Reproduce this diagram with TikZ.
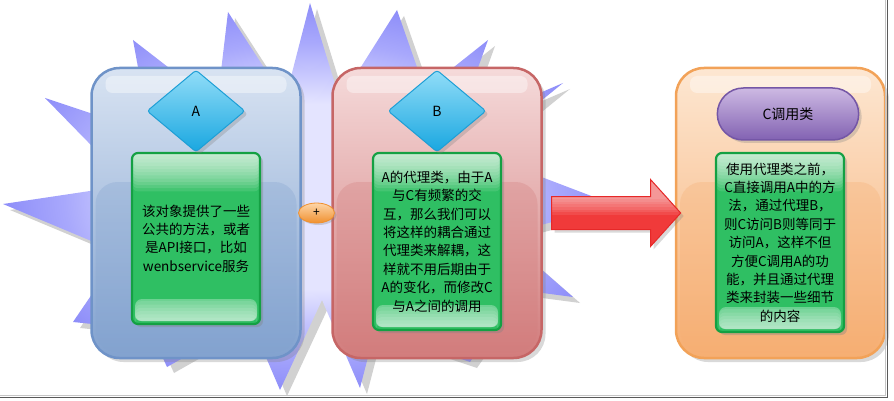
\documentclass[tikz,border=0pt]{standalone}
\usepackage{fontspec}
\setmainfont{Noto Sans CJK SC}
\usetikzlibrary{shapes.geometric,shapes.misc,shapes.arrows,shadows,calc}

\definecolor{blueTop}{HTML}{D8E3F2}
\definecolor{blueBot}{HTML}{82A2CF}
\definecolor{blueLine}{HTML}{6F93C8}
\definecolor{redTop}{HTML}{F5DADA}
\definecolor{redBot}{HTML}{D27C7C}
\definecolor{redLine}{HTML}{C66666}
\definecolor{orangeTop}{HTML}{FDE7D2}
\definecolor{orangeBot}{HTML}{F6AE72}
\definecolor{orangeLine}{HTML}{F2A258}
\definecolor{noteFill}{HTML}{2FBF63}
\definecolor{noteLine}{HTML}{14A043}
\definecolor{tagTop}{HTML}{92DDF8}
\definecolor{tagBot}{HTML}{19A7E0}
\definecolor{tagLine}{HTML}{1E9FD6}
\definecolor{callTop}{HTML}{CDB9E3}
\definecolor{callBot}{HTML}{8262B2}
\definecolor{callLine}{HTML}{7456A6}
\definecolor{plusTop}{HTML}{FDD5A8}
\definecolor{plusBot}{HTML}{F0902E}
\definecolor{arrowFill}{HTML}{F03A3A}
\definecolor{arrowLine}{HTML}{E62828}
\definecolor{burstIn}{HTML}{E4E4FF}
\definecolor{burstMid}{HTML}{A8A8FC}
\definecolor{burstEdge}{HTML}{7474F6}
\definecolor{burstOut}{HTML}{5252F0}

\pgfdeclareradialshading{burst}{\pgfpoint{0bp}{0bp}}{color(0bp)=(burstIn); color(12bp)=(burstIn);
  color(20bp)=(burstMid); color(30bp)=(burstEdge); color(42bp)=(burstOut); color(50bp)=(burstOut)}

% outline of the star behind the A and B boxes
\newcommand\burstoutline{(3,204) -- (130,185) -- (45,98) -- (150,133) -- (133,40) -- (217,105)
  -- (228,12) -- (285,100) -- (310,3) -- (340,100) -- (397,10) -- (425,90) -- (488,40)
  -- (470,90) -- (500,110) -- (563,83) -- (520,118) -- (510,165) -- (615,205) -- (530,228)
  -- (525,255) -- (573,297) -- (520,290) -- (470,362) -- (375,330) -- (360,388) -- (322,300)
  -- (280,390) -- (250,320) -- (167,367) -- (150,330) -- (73,322) -- (120,253) -- cycle}

\tikzset{
  container/.style={draw=#1Line, line width=2.5pt, top color=#1Top, bottom color=#1Bot,
    rounded corners=28pt, minimum width=209pt, minimum height=290pt,
    drop shadow={shadow xshift=4pt,shadow yshift=-4pt,opacity=.3},
    path picture={
      \fill[white,opacity=.4,rounded corners=7pt]
        ([xshift=14pt,yshift=-8pt]path picture bounding box.north west) rectangle
        ([xshift=-14pt,yshift=-25pt]path picture bounding box.north east);
      \fill[#1Bot,opacity=.3,rounded corners=22pt]
        ([xshift=4pt,yshift=-114pt]path picture bounding box.north west) rectangle
        ([xshift=-4pt,yshift=6pt]path picture bounding box.south east);
    }},
  note/.style={draw=noteLine, line width=2.2pt, fill=noteFill, rounded corners=6pt,
    minimum width=128pt, align=center, inner sep=3pt,
    font=\fontsize{13.5}{18.4}\selectfont,
    drop shadow={shadow xshift=3pt,shadow yshift=-3pt,opacity=.35},
    path picture={
      % glossy top, fading downwards
      \foreach \k in {1,...,12}
        \fill[white,opacity=.1] (path picture bounding box.north west) rectangle
          ([yshift={-3.2pt*\k}]path picture bounding box.north east);
      % light strip at the bottom
      \fill[white,opacity=.3,rounded corners=7pt]
        ([xshift=3pt,yshift=25pt]path picture bounding box.south west) rectangle
        ([xshift=-3pt,yshift=3pt]path picture bounding box.south east);
      \foreach \k in {1,...,6}
        \fill[white,opacity=.1,rounded corners=6pt]
          ([xshift=3pt,yshift={3pt+3.3pt*\k}]path picture bounding box.south west) rectangle
          ([xshift=-3pt,yshift=3pt]path picture bounding box.south east);
    }},
  tag/.style={diamond, draw=tagLine, line width=1pt, top color=tagTop, bottom color=tagBot,
    minimum width=98pt, minimum height=82pt, inner sep=0pt, rounded corners=3pt,
    font=\fontsize{14}{14}\selectfont,
    drop shadow={shadow xshift=3pt,shadow yshift=-3pt,opacity=.3}},
  caller/.style={rounded rectangle, draw=callLine, line width=1.5pt, top color=callTop,
    bottom color=callBot, minimum width=148pt, minimum height=52pt,
    font=\fontsize{14}{14}\selectfont,
    drop shadow={shadow xshift=3pt,shadow yshift=-3pt,opacity=.3}},
  plusnode/.style={ellipse, draw=plusBot, line width=.8pt, top color=plusTop, bottom color=plusBot,
    minimum width=36pt, minimum height=20pt, inner sep=0pt, font=\fontsize{12}{12}\selectfont,
    drop shadow={shadow xshift=2pt,shadow yshift=-2pt,opacity=.3}},
  bigarrow/.style={single arrow, draw=arrowLine, line width=1pt, fill=arrowFill,
    minimum height=129pt, minimum width=66pt,
    inner sep=16pt, single arrow head extend=17pt, single arrow tip angle=96,
    drop shadow={shadow xshift=3pt,shadow yshift=-3pt,opacity=.3},
    path picture={
      \foreach \k in {1,...,7}
        \fill[white,opacity=.09] (path picture bounding box.north west) rectangle
          ([yshift={-17pt-2.6pt*\k}]path picture bounding box.north east);
    }}
}

\begin{document}
\begin{tikzpicture}[x=1pt,y=-1pt]
  \useasboundingbox (0,0) rectangle (894,401);

  % star with its shadow
  \fill[black,opacity=.18,shift={(7,6)}] \burstoutline;
  \shade[shading=burst] \burstoutline;

  % the three classes
  \node[container=blue] (boxA) at (196,213) {};
  \node[container=red] (boxB) at (437,213) {};
  \node[container=orange] (boxC) at (780.5,213) {};

  \node[note, minimum height=171pt] (noteA) at (196,238.5)
    {该对象提供了一些\\公共的方法，或者\\是API接口，比如\\wenbservice服务};
  \node[note, minimum height=177pt] (noteB) at (437,241.5)
    {A的代理类，由于A\\与C有频繁的交\\互，那么我们可以\\将这样的耦合通过\\代理类来解耦，这\\样就不用后期由于\\A的变化，而修改C\\与A之间的调用};
  \node[note, minimum height=179pt] (noteC) at (780,242.5)
    {使用代理类之前，\\C直接调用A中的方\\法，通过代理B，\\则C访问B则等同于\\访问A，这样不但\\方便C调用A的功\\能，并且通过代理\\类来封装一些细节\\的内容};

  \node[tag] (tagA) at (196,111) {A};
  \node[tag] (tagB) at (437,111) {B};
  \node[caller] (callC) at (788,114) {C调用类};

  % plus between A and B, arrow from B to C
  \node[plusnode] (plus) at ($(boxA.east)!.5!(boxB.west)$) {+};
  \node[bigarrow] (arrowBC) at ($(boxB.east)!.5!(boxC.west)$) {};

  % frame of the screenshot
  \draw[gray!45,line width=1pt] (0,395.5) -- (885.5,395.5) -- (885.5,0);
  \draw[gray!70!black,line width=1.6pt] (0,397.5) -- (887.5,397.5) -- (887.5,0);
\end{tikzpicture}
\end{document}
